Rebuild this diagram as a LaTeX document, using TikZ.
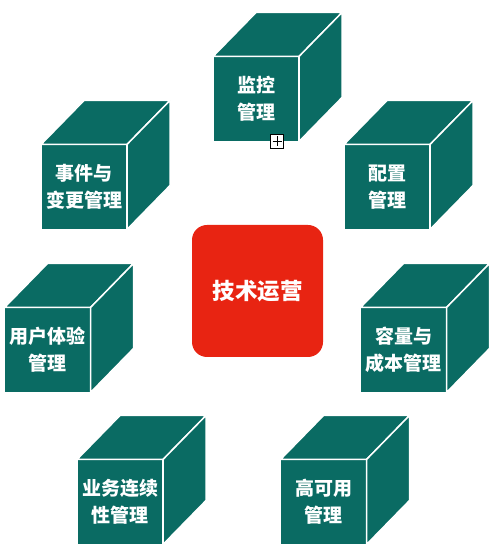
\documentclass[tikz,border=0pt]{standalone}
\usepackage{fontspec}
\newfontfamily\cjk{Noto Sans CJK SC}
\usepackage{tikz}
\definecolor{cubeteal}{RGB}{10,107,99}
\definecolor{opsred}{RGB}{232,36,18}

\begin{document}
\begin{tikzpicture}[
    x=1pt, y=1pt,
    cube/.style={fill=cubeteal, draw=white, line width=1.5pt, outer sep=0pt, inner sep=0pt,
        minimum width=86pt, minimum height=85pt, align=center, text=white,
        font=\cjk\bfseries\fontsize{19}{27}\selectfont},
    face/.style={fill=cubeteal, draw=white, line width=1.5pt, line join=round},
    core/.style={fill=opsred, rounded corners=15pt, minimum width=131pt, minimum height=132pt,
        text=white, font=\cjk\bfseries\fontsize{22.5}{27}\selectfont}
]
\useasboundingbox (0,0) rectangle (499,559);

% Nodes
\node (core) [core] at (257.5,268) {技术运营};
\node (jiankong) [cube] at (256,460) {监控\\管理};
\node (shijian) [cube] at (84,372) {事件与\\变更管理};
\node (peizhi) [cube] at (387,372) {配置\\管理};
\node (yonghu) [cube] at (47.5,209) {用户体验\\管理};
\node (rongliang) [cube] at (403.5,209) {容量与\\成本管理};
\node (yewu) [cube] at (120,57) {业务连续\\性管理};
\node (gaoky) [cube] at (323.5,57) {高可用\\管理};

% Faces
\foreach \n in {jiankong,shijian,peizhi,yonghu,rongliang,yewu,gaoky}{
  \draw [face] (\n.north west) -- ++(43,44) -- ++(86,0) -- (\n.north east) -- cycle;
  \draw [face] (\n.north east) -- ++(43,44) -- ++(0,-85) -- (\n.south east) -- cycle;
}

% Expand mark
\node (expand) [draw=black, fill=white, line width=0.8pt, minimum width=13pt, minimum height=14pt,
    inner sep=0pt, path picture={
      \draw [line width=0.8pt] ([yshift=0pt]path picture bounding box.center) ++(-4.5,0) -- ++(9,0);
      \draw [line width=0.8pt] (path picture bounding box.center) ++(0,-5) -- ++(0,10);
    }] at (277,418) {};

\end{tikzpicture}
\end{document}
